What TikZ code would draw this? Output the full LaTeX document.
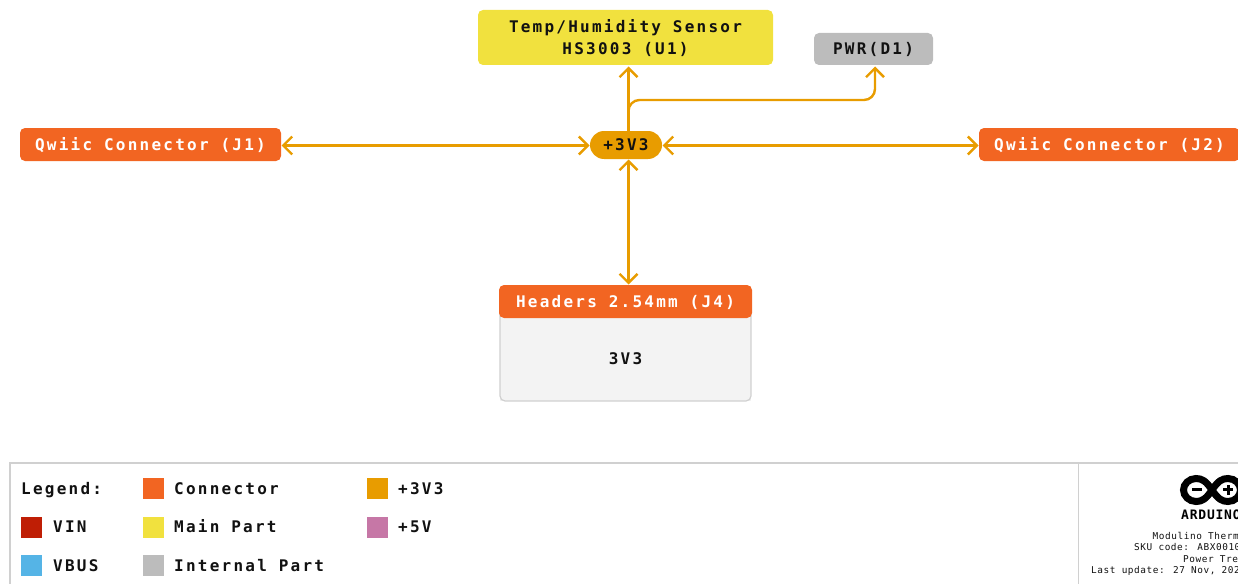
\documentclass[tikz,border=0pt]{standalone}
\usepackage{fontspec}
\setmainfont{DejaVu Sans Mono}
\newfontfamily\monolabel[LetterSpace=14,BoldFont={DejaVu Sans Mono Bold}]{DejaVu Sans Mono}
\newfontfamily\monosmall[LetterSpace=6]{DejaVu Sans Mono}
\usetikzlibrary{arrows.meta}
\definecolor{amberline}{HTML}{E89C00}
\definecolor{connorange}{HTML}{F26522}
\definecolor{mainyellow}{HTML}{F1E13E}
\definecolor{partgrey}{HTML}{BCBCBC}
\definecolor{vinred}{HTML}{BF1E05}
\definecolor{vbusblue}{HTML}{55B4E6}
\definecolor{fivepink}{HTML}{C677A6}
\definecolor{framegrey}{HTML}{D0D0D0}
\definecolor{bodygrey}{HTML}{F3F3F3}
\definecolor{inkblack}{HTML}{111111}
\newcommand\liftline{\rule{0pt}{15pt}\rule[-3.5pt]{0pt}{3.5pt}}
\tikzset{
  blockbox/.style={rectangle,rounded corners=5pt,inner sep=0pt,outer sep=0pt,align=center,
    font=\monolabel\bfseries\fontsize{16}{22}\selectfont,text=inkblack},
  connbox/.style={blockbox,fill=connorange,text=white},
  mainbox/.style={blockbox,fill=mainyellow},
  partbox/.style={blockbox,fill=partgrey},
  railbox/.style={blockbox,fill=amberline,rounded corners=14pt},
  rail/.style={draw=amberline,line width=2.4pt,line cap=round},
  railboth/.style={rail,{Straight Barb[length=9pt,width=18pt,line width=2.4pt]}-{Straight Barb[length=9pt,width=18pt,line width=2.4pt]}},
  railto/.style={rail,-{Straight Barb[length=9pt,width=18pt,line width=2.4pt]}},
  swatch/.style={rectangle,minimum width=21pt,minimum height=21pt,inner sep=0pt,outer sep=0pt},
  legendtext/.style={anchor=west,inner sep=0pt,text=inkblack,font=\monolabel\bfseries\fontsize{16}{20}\selectfont,execute at begin node=\liftline},
  smalltext/.style={anchor=west,inner sep=0pt,text=inkblack,font=\monosmall\fontsize{9.4}{11}\selectfont},
  frameline/.style={draw=framegrey,line width=1.2pt},
}
\begin{document}
\begin{tikzpicture}[x=1pt,y=-1pt]
\useasboundingbox (0,0) rectangle (1238,583);
\begin{scope}
\clip (0,0) rectangle (1238,583);

% J4 body
\fill[bodygrey] (500,312) rectangle (751,401);
\draw[draw=framegrey,line width=1.2pt,rounded corners=5pt] (500,312) -- (500,401) -- (751,401) -- (751,312);
\node[inner sep=0pt,text=inkblack,font=\monolabel\bfseries\fontsize{16}{20}\selectfont,execute at begin node=\liftline] (body) at (625.5,359) {3V3};

% Blocks
\node[mainbox,minimum width=295pt,minimum height=55pt] (U1) at (625.5,37.5) {\rule{0pt}{16.5pt}Temp/Humidity Sensor\\HS3003 (U1)\rule[-3.5pt]{0pt}{3.5pt}};
\node[partbox,minimum width=119pt,minimum height=32pt] (D1) at (873.5,49) {\liftline PWR(D1)};
\node[connbox,minimum width=261pt,minimum height=33pt] (J1) at (150.5,144.5) {\liftline Qwiic Connector (J1)};
\node[connbox,minimum width=261pt,minimum height=33pt] (J2) at (1109.5,144.5) {\liftline Qwiic Connector (J2)};
\node[connbox,minimum width=253pt,minimum height=33pt] (J4) at (625.5,301.5) {\liftline Headers 2.54mm (J4)};
\node[railbox,minimum width=72pt,minimum height=28pt] (V33) at (626,145) {\liftline +3V3};

% Connectors
\draw[railboth] ([xshift=0.5pt,yshift=-1pt]J1.east) -- ([yshift=-0.5pt,xshift=-0.5pt]V33.west);
\draw[railboth] ([xshift=0.5pt,yshift=-0.5pt]V33.east) -- ([yshift=-1pt,xshift=-0.5pt]J2.west);
\draw[railto] ([xshift=2.5pt]V33.north) -- ([xshift=3pt,yshift=-1.5pt]U1.south);
\draw[railboth] ([xshift=2.5pt,yshift=-0.5pt]V33.south) -- ([xshift=3pt,yshift=0.5pt]J4.north);
\draw[railto,rounded corners=11pt] ([xshift=2.5pt]V33.north) -- ([xshift=2.5pt,yshift=31pt]V33.north) -- ([xshift=1.5pt,yshift=-35pt]D1.south) -- ([xshift=1.5pt,yshift=-1.5pt]D1.south);

% Title frame
\draw[frameline] (10,584) -- (10,463) -- (1239,463);
\draw[frameline] (1078.5,463) -- (1078.5,584);

% Legend
\node[legendtext] (legendhead) at (21,488.5) {Legend:};
\node[swatch,fill=vinred] (sVIN) at (31.5,527) {};
\node[legendtext] (tVIN) at (53,527) {VIN};
\node[swatch,fill=vbusblue] (sVBUS) at (31.5,565.5) {};
\node[legendtext] (tVBUS) at (53,565.5) {VBUS};
\node[swatch,fill=connorange] (sConn) at (153.5,488) {};
\node[legendtext] (tConn) at (174,488.5) {Connector};
\node[swatch,fill=mainyellow] (sMain) at (153.5,527) {};
\node[legendtext] (tMain) at (174,527) {Main Part};
\node[swatch,fill=partgrey] (sPart) at (153.5,565.5) {};
\node[legendtext] (tPart) at (174,565.5) {Internal Part};
\node[swatch,fill=amberline] (s33) at (377.5,488) {};
\node[legendtext] (t33) at (398,488.5) {+3V3};
\node[swatch,fill=fivepink] (s5) at (377.5,527) {};
\node[legendtext] (t5) at (398,527) {+5V};

% Logo
\draw[black,line width=7pt]
  (1212,490) .. controls (1206,481) and (1202,478.5) .. (1196,478.5)
  .. controls (1189,478.5) and (1183.5,484) .. (1183.5,490)
  .. controls (1183.5,496) and (1189,501.5) .. (1196,501.5)
  .. controls (1202,501.5) and (1206,499) .. (1212,490)
  .. controls (1218,481) and (1222,478.5) .. (1228,478.5)
  .. controls (1235,478.5) and (1240.5,484) .. (1240.5,490)
  .. controls (1240.5,496) and (1235,501.5) .. (1228,501.5)
  .. controls (1222,501.5) and (1218,499) .. (1212,490);
\fill[black] (1192,488) rectangle (1202,491);
\fill[black] (1223,488) rectangle (1233,491);
\fill[black] (1226.5,484.5) rectangle (1229.5,494.5);
\node[anchor=west,inner sep=0pt,text=black,font=\monosmall\bfseries\fontsize{13}{15}\selectfont] (brand) at (1181,514.5) {ARDUINO};

% Title block text
\node[smalltext] (t1) at (1152.5,535.5) {Modulino Therm};
\node[smalltext] (t2) at (1134,547) {SKU code: ABX0010};
\node[smalltext] (t3) at (1183,559) {Power Tre};
\node[smalltext] (t4) at (1091,570.5) {Last update: 27 Nov, 202};
\end{scope}
\end{tikzpicture}
\end{document}
